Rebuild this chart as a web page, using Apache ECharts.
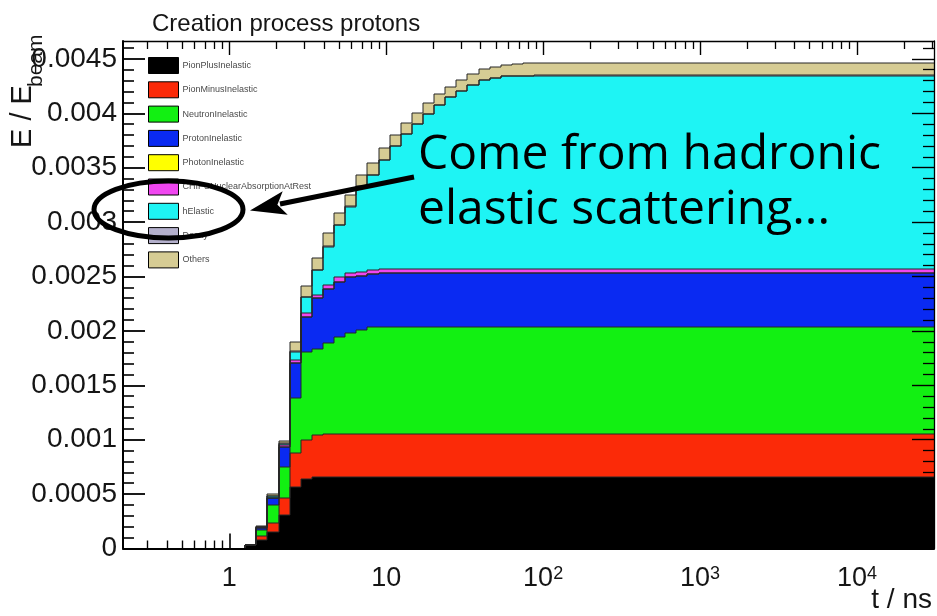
<!DOCTYPE html>
<html>
<head>
<meta charset="utf-8">
<script src="https://cdn.jsdelivr.net/npm/echarts@6/dist/echarts.min.js"></script>
<style>
  html, body { margin: 0; padding: 0; background: #ffffff; }
  #chart { width: 937px; height: 616px; }
</style>
</head>
<body>
<div id="chart"></div>
<script>
// Time binning: log-spaced bins in t [ns]
const T_MIN = 0.21;
const T_MAX = 31000;
const N_BINS = 73;

const processNames = [
  'PionPlusInelastic', 'PionMinusInelastic', 'NeutronInelastic', 'ProtonInelastic',
  'PhotonInelastic', 'CHIPSNuclearAbsorptionAtRest', 'hElastic', 'Decay', 'Others'
];

// Energy per bin, cumulative in time, in units of 1e-6 E_beam (bins 0..72)
const pionPlusInelastic = [
  0, 0, 0, 0, 0, 0, 0, 0, 0, 0,
  0, 30, 78, 154, 308, 568, 640, 660, 660, 660,
  660, 660, 660, 660, 660, 660, 660, 660, 660, 660,
  660, 660, 660, 660, 660, 660, 660, 660, 660, 660,
  660, 660, 660, 660, 660, 660, 660, 660, 660, 660,
  660, 660, 660, 660, 660, 660, 660, 660, 660, 660,
  660, 660, 660, 660, 660, 660, 660, 660, 660, 660,
  660, 660, 660
];
const pionMinusInelastic = [
  0, 0, 0, 0, 0, 0, 0, 0, 0, 0,
  0, 0, 37, 78, 153, 307, 360, 380, 390, 390,
  390, 390, 390, 390, 390, 390, 390, 390, 390, 390,
  390, 390, 390, 390, 390, 390, 390, 390, 390, 390,
  390, 390, 390, 390, 390, 390, 390, 390, 390, 390,
  390, 390, 390, 390, 390, 390, 390, 390, 390, 390,
  390, 390, 390, 390, 390, 390, 390, 390, 390, 390,
  390, 390, 390
];
const neutronInelastic = [
  0, 0, 0, 0, 0, 0, 0, 0, 0, 0,
  0, 0, 55, 168, 291, 505, 810, 790, 836, 891,
  933, 958, 983, 990, 990, 990, 990, 990, 990, 990,
  990, 990, 990, 990, 990, 990, 990, 990, 990, 990,
  990, 990, 990, 990, 990, 990, 990, 990, 990, 990,
  990, 990, 990, 990, 990, 990, 990, 990, 990, 990,
  990, 990, 990, 990, 990, 990, 990, 990, 990, 990,
  990, 990, 990
];
const protonInelastic = [
  0, 0, 0, 0, 0, 0, 0, 0, 0, 0,
  0, 0, 18, 61, 184, 322, 320, 470, 496, 511,
  510, 497, 490, 490, 490, 490, 490, 490, 490, 490,
  490, 490, 490, 490, 490, 490, 490, 490, 490, 490,
  490, 490, 490, 490, 490, 490, 490, 490, 490, 490,
  490, 490, 490, 490, 490, 490, 490, 490, 490, 490,
  490, 490, 490, 490, 490, 490, 490, 490, 490, 490,
  490, 490, 490
];
const photonInelastic = [
  0, 0, 0, 0, 0, 0, 0, 0, 0, 0,
  0, 0, 0, 0, 0, 0, 0, 0, 0, 0,
  0, 0, 0, 0, 0, 0, 0, 0, 0, 0,
  0, 0, 0, 0, 0, 0, 0, 0, 0, 0,
  0, 0, 0, 0, 0, 0, 0, 0, 0, 0,
  0, 0, 0, 0, 0, 0, 0, 0, 0, 0,
  0, 0, 0, 0, 0, 0, 0, 0, 0, 0,
  0, 0, 0
];
const chipsNuclearAbsorption = [
  0, 0, 0, 0, 0, 0, 0, 0, 0, 0,
  0, 0, 7, 7, 14, 30, 34, 30, 40, 41,
  37, 39, 37, 36, 36, 36, 36, 36, 36, 36,
  36, 36, 36, 36, 36, 36, 36, 36, 36, 36,
  36, 36, 36, 36, 36, 36, 36, 36, 36, 36,
  36, 36, 36, 36, 36, 36, 36, 36, 36, 36,
  36, 36, 36, 36, 36, 36, 36, 36, 36, 36,
  36, 36, 36
];
const hElastic = [
  0, 0, 0, 0, 0, 0, 0, 0, 0, 0,
  0, 0, 3, 10, 12, 76, 145, 230, 352, 480,
  612, 781, 873, 1005, 1134, 1244, 1336, 1428, 1511, 1579,
  1639, 1694, 1740, 1758, 1772, 1775, 1777, 1780, 1780, 1780,
  1780, 1780, 1780, 1780, 1780, 1780, 1780, 1780, 1780, 1780,
  1780, 1780, 1780, 1780, 1780, 1780, 1780, 1780, 1780, 1780,
  1780, 1780, 1780, 1780, 1780, 1780, 1780, 1780, 1780, 1780,
  1780, 1780, 1780
];
const decay = [
  0, 0, 0, 0, 0, 0, 0, 0, 0, 0,
  0, 0, 0, 6, 8, 4, 3, 3, 3, 3,
  3, 3, 3, 3, 3, 3, 3, 3, 3, 3,
  3, 3, 3, 3, 3, 3, 3, 3, 3, 3,
  3, 3, 3, 3, 3, 3, 3, 3, 3, 3,
  3, 3, 3, 3, 3, 3, 3, 3, 3, 3,
  3, 3, 3, 3, 3, 3, 3, 3, 3, 3,
  3, 3, 3
];
const others = [
  0, 0, 0, 0, 0, 0, 0, 0, 0, 0,
  0, 0, 7, 17, 20, 88, 101, 104, 120, 105,
  104, 100, 110, 104, 97, 95, 98, 95, 97, 96,
  98, 100, 95, 98, 103, 112, 115, 115, 115, 115,
  115, 115, 115, 115, 115, 115, 115, 115, 115, 115,
  115, 115, 115, 115, 115, 115, 115, 115, 115, 115,
  115, 115, 115, 115, 115, 115, 115, 115, 115, 115,
  115, 115, 115
];

// Axis tick positions
const xMajorTimes = [1, 10, 100, 1000, 10000];
const yTickValues = [0, 0.0005, 0.001, 0.0015, 0.002, 0.0025, 0.003, 0.0035, 0.004, 0.0045];
const Y_MAX = 0.004664;

const processColors = [
  '#000000', '#fb2a08', '#12f012', '#0a2af2', '#ffff00',
  '#f046f0', '#1ef4f4', '#b4b0cc', '#d6cc94'
];

const layers = [
  pionPlusInelastic, pionMinusInelastic, neutronInelastic, protonInelastic,
  photonInelastic, chipsNuclearAbsorption, hElastic, decay, others
];

// Bin edges on the log10(t) value axis
const logMin = Math.log10(T_MIN);
const logMax = Math.log10(T_MAX);
const binEdges = [];
for (let k = 0; k <= N_BINS; k++) binEdges.push(logMin + (logMax - logMin) * k / N_BINS);

const xMajorLog = xMajorTimes.map(t => Math.log10(t));
const xMinorLog = [];
for (let d = -1; d <= 4; d++) {
  for (let m = 2; m <= 9; m++) {
    const t = m * Math.pow(10, d);
    if (t >= T_MIN && t <= T_MAX) xMinorLog.push(Math.log10(t));
  }
}
const yMinorValues = [];
for (let i = 1; i * 0.0001 < Y_MAX; i++) {
  if (i % 5 !== 0) yMinorValues.push(+(i * 0.0001).toFixed(4));
}

// Stacked histogram: each bin is a box from the sum of the lower layers
// to that sum plus this layer's content; the outline traces the step top.
// Corners are snapped to whole pixels so neighbouring bins abut cleanly.
function renderBin(params, api) {
  const x0 = api.value(0), x1 = api.value(1);
  const base = api.value(2), top = api.value(3), nextTop = api.value(4);
  const pBase = api.coord([x0, base]);
  const pTop = api.coord([x1, top]);
  const pNext = api.coord([x1, nextTop]);
  const left = Math.round(pBase[0]);
  const right = Math.round(pTop[0]);
  const yBase = Math.round(pBase[1]);
  const yTop = Math.round(pTop[1]);
  const yNext = Math.round(pNext[1]);
  const color = api.visual('color');
  return {
    type: 'group',
    children: [
      {
        type: 'rect',
        shape: { x: left, y: yTop, width: right - left, height: yBase - yTop },
        style: { fill: color }
      },
      {
        type: 'polyline',
        z2: 10,
        shape: { points: [[left, yTop], [right, yTop], [right, yNext]] },
        style: { stroke: '#262626', lineWidth: 1, fill: null }
      }
    ]
  };
}

let cumulative = new Array(N_BINS).fill(0);
const series = layers.map((vals, li) => {
  const tops = cumulative.map((c, i) => c + vals[i] * 1e-6);
  const data = [];
  for (let i = 0; i < N_BINS; i++) {
    data.push([binEdges[i], binEdges[i + 1], cumulative[i], tops[i], i + 1 < N_BINS ? tops[i + 1] : tops[i]]);
  }
  cumulative = tops;
  return {
    type: 'custom',
    name: processNames[li],
    renderItem: renderBin,
    itemStyle: { color: processColors[li] },
    encode: { x: [0, 1], y: [2, 3, 4] },
    data: data,
    silent: true
  };
});

const FONT = '"Liberation Sans", Arial, Helvetica, sans-serif';
const NOTE_FONT = '"Open Sans", Lato, sans-serif';

function xLabel(v) {
  const n = Math.round(v);
  if (n === 0) return '1';
  if (n === 1) return '10';
  return '10{sup|' + n + '}';
}

const xAxisBase = {
  type: 'value', min: logMin, max: logMax,
  splitLine: { show: false }, z: 10
};
const yAxisBase = {
  type: 'value', min: 0, max: Y_MAX,
  splitLine: { show: false }, z: 10
};

const option = {
  animation: false,
  backgroundColor: '#ffffff',
  textStyle: { fontFamily: FONT },
  grid: { left: 123, right: 3, top: 41, bottom: 67.5, containLabel: false, outerBoundsMode: 'none' },
  legend: {
    data: processNames,
    orient: 'vertical',
    left: 148, top: 57,
    padding: 0,
    itemWidth: 30, itemHeight: 16, itemGap: 7.3,
    icon: 'rect',
    selectedMode: false,
    itemStyle: { borderColor: '#000000', borderWidth: 1 },
    textStyle: { fontSize: 9, color: '#4a4a4a', fontFamily: FONT, padding: [0, 0, 0, -1] }
  },
  xAxis: [
    Object.assign({}, xAxisBase, {
      position: 'bottom',
      axisLine: { onZero: false, lineStyle: { color: '#000', width: 2 } },
      axisTick: { inside: true, length: 15, customValues: xMajorLog, lineStyle: { color: '#000', width: 1.6 } },
      axisLabel: {
        customValues: xMajorLog, formatter: xLabel, margin: 17,
        fontSize: 27, color: '#151515', fontFamily: FONT,
        rich: { sup: { fontSize: 18, color: '#151515', fontFamily: FONT, verticalAlign: 'top', lineHeight: 8 } }
      }
    }),
    Object.assign({}, xAxisBase, {
      position: 'bottom',
      axisLine: { show: false, onZero: false },
      axisTick: { inside: true, length: 8, customValues: xMinorLog, lineStyle: { color: '#000', width: 1.4 } },
      axisLabel: { show: false }
    }),
    Object.assign({}, xAxisBase, {
      position: 'top',
      axisLine: { onZero: false, lineStyle: { color: '#000', width: 1.3 } },
      axisTick: { inside: true, length: 14, customValues: xMajorLog, lineStyle: { color: '#000', width: 1.4 } },
      axisLabel: { show: false }
    }),
    Object.assign({}, xAxisBase, {
      position: 'top',
      axisLine: { show: false, onZero: false },
      axisTick: { inside: true, length: 8, customValues: xMinorLog, lineStyle: { color: '#000', width: 1.3 } },
      axisLabel: { show: false }
    })
  ],
  yAxis: [
    Object.assign({}, yAxisBase, {
      position: 'left',
      axisLine: { onZero: false, lineStyle: { color: '#000', width: 2 } },
      axisTick: { inside: true, length: 22, customValues: yTickValues, lineStyle: { color: '#000', width: 1.8 } },
      axisLabel: {
        customValues: yTickValues, margin: 6,
        formatter: v => (v === 0 ? '0' : String(v)),
        fontSize: 28, color: '#151515', fontFamily: FONT
      }
    }),
    Object.assign({}, yAxisBase, {
      position: 'left',
      axisLine: { show: false, onZero: false },
      axisTick: { inside: true, length: 11, customValues: yMinorValues, lineStyle: { color: '#000', width: 1.6 } },
      axisLabel: { show: false }
    }),
    Object.assign({}, yAxisBase, {
      position: 'right',
      axisLine: { onZero: false, lineStyle: { color: '#000', width: 1.3 } },
      axisTick: { inside: true, length: 22, customValues: yTickValues, lineStyle: { color: '#000', width: 1.4 } },
      axisLabel: { show: false }
    }),
    Object.assign({}, yAxisBase, {
      position: 'right',
      axisLine: { show: false, onZero: false },
      axisTick: { inside: true, length: 11, customValues: yMinorValues, lineStyle: { color: '#000', width: 1.3 } },
      axisLabel: { show: false }
    })
  ],
  series: series,
  graphic: [
    {
      type: 'text', x: 152, y: 24, silent: true,
      style: { text: 'Creation process protons', font: '24px ' + FONT, fill: '#151515', textAlign: 'left', textVerticalAlign: 'middle', verticalAlign: 'middle' }
    },
    {
      type: 'text', x: 23, y: 148, rotation: Math.PI / 2, silent: true,
      style: { text: 'E / E', font: '29px ' + FONT, fill: '#151515', textAlign: 'left', textVerticalAlign: 'middle', verticalAlign: 'middle' }
    },
    {
      type: 'text', x: 36, y: 87, rotation: Math.PI / 2, silent: true,
      style: { text: 'beam', font: '21px ' + FONT, fill: '#151515', textAlign: 'left', textVerticalAlign: 'middle', verticalAlign: 'middle' }
    },
    {
      type: 'text', x: 932, y: 600, silent: true,
      style: { text: 't / ns', font: '28px ' + FONT, fill: '#151515', textAlign: 'right', textVerticalAlign: 'middle', verticalAlign: 'middle' }
    },
    {
      type: 'text', x: 418, y: 155.5, silent: true, z: 20,
      style: { text: 'Come from hadronic', font: '48px ' + NOTE_FONT, fill: '#000', textAlign: 'left', textVerticalAlign: 'middle', verticalAlign: 'middle' }
    },
    {
      type: 'text', x: 418, y: 210.5, silent: true, z: 20,
      style: { text: 'elastic scattering...', font: '48px ' + NOTE_FONT, fill: '#000', textAlign: 'left', textVerticalAlign: 'middle', verticalAlign: 'middle' }
    },
    {
      type: 'ellipse', silent: true, z: 20,
      shape: { cx: 168.5, cy: 209.5, rx: 74.5, ry: 28.5 },
      style: { fill: null, stroke: '#000', lineWidth: 5 }
    },
    {
      type: 'polyline', silent: true, z: 20,
      shape: { points: [[414, 177], [280, 204]] },
      style: { stroke: '#000', lineWidth: 5, fill: null }
    },
    {
      type: 'polygon', silent: true, z: 20,
      shape: { points: [[250, 210.5], [287.7, 214.7], [277.4, 204.7], [282.7, 191.3]] },
      style: { fill: '#000' }
    }
  ]
};

const chart = echarts.init(document.getElementById('chart'), null, { renderer: 'canvas' });
chart.setOption(option);
</script>
</body>
</html>
